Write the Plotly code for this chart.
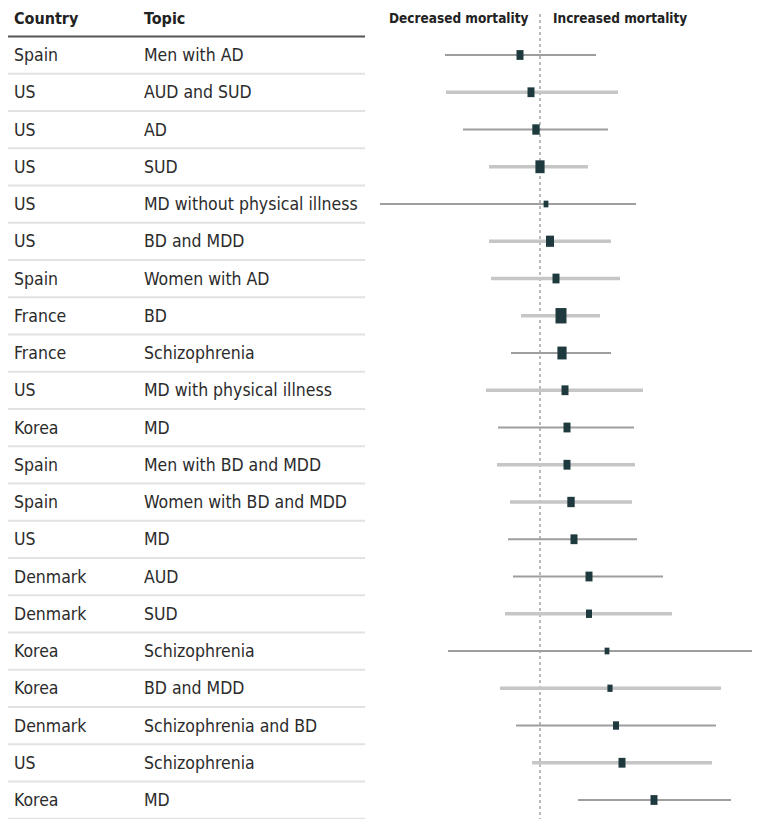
import plotly.graph_objects as go

# ---------------- data ----------------
countries = ["Spain", "US", "US", "US", "US", "US", "Spain", "France", "France", "US",
             "Korea", "Spain", "Spain", "US", "Denmark", "Denmark", "Korea", "Korea",
             "Denmark", "US", "Korea"]
topics = ["Men with AD", "AUD and SUD", "AD", "SUD", "MD without physical illness",
          "BD and MDD", "Women with AD", "BD", "Schizophrenia", "MD with physical illness",
          "MD", "Men with BD and MDD", "Women with BD and MDD", "MD", "AUD", "SUD",
          "Schizophrenia", "BD and MDD", "Schizophrenia and BD", "Schizophrenia", "MD"]
estimate = [-0.20, -0.09, -0.04, 0.00, 0.06, 0.10, 0.16, 0.21, 0.22, 0.25,
            0.27, 0.27, 0.31, 0.34, 0.49, 0.49, 0.67, 0.70, 0.76, 0.82, 1.14]
ci_low = [-0.95, -0.94, -0.77, -0.51, -1.60, -0.51, -0.49, -0.19, -0.29, -0.54,
          -0.42, -0.43, -0.30, -0.32, -0.27, -0.35, -0.92, -0.40, -0.24, -0.08, 0.38]
ci_high = [0.56, 0.78, 0.68, 0.48, 0.96, 0.71, 0.80, 0.60, 0.71, 1.03,
           0.94, 0.95, 0.92, 0.97, 1.23, 1.32, 2.25, 1.81, 1.76, 1.72, 1.91]
weight = [3.5, 3.5, 3.7, 4.6, 2.4, 4.0, 3.5, 5.5, 4.6, 3.5,
          3.5, 3.5, 3.7, 3.5, 3.5, 3.0, 2.4, 2.6, 3.0, 3.5, 3.5]
ci_type = ["a", "b", "a", "b", "a", "b", "b", "b", "a", "b",
           "a", "b", "b", "a", "a", "b", "a", "b", "a", "b", "a"]
header_country = "Country"
header_topic = "Topic"
header_left = "Decreased mortality"
header_right = "Increased mortality"

# ---------------- styling ----------------
FONT = "DejaVu Sans Condensed, Liberation Sans Narrow, Roboto, sans-serif"
TXT = "#2b2b2b"
MARK = "#1f3a3e"
W, H = 760, 819
OFF = 8            # page body margin offset
ROW_PX = 37.25
ROW0_PX = 55 - OFF
n = len(countries)
rows = list(range(n))
y_top = -ROW0_PX / ROW_PX
y_bot = (H - ROW0_PX) / ROW_PX
PX_PER_UNIT = 100.0
NULL_PX = 540 - OFF
x_min = -NULL_PX / PX_PER_UNIT
x_max = (W - NULL_PX) / PX_PER_UNIT

def px(v):
    return (v - OFF) / W

fig = go.Figure()

# CI lines, grouped by style
styles = {"a": dict(width=2, color="#9e9e9e"), "b": dict(width=3.5, color="#c6c6c6")}
for key, st in styles.items():
    xs, ys = [], []
    for i in rows:
        if ci_type[i] == key:
            xs += [ci_low[i], ci_high[i], None]
            ys += [i, i, None]
    fig.add_trace(go.Scatter(x=xs, y=ys, mode="lines", line=st,
                             hoverinfo="skip", showlegend=False))

# point estimates as small rectangles (vertical thick segments)
for i in rows:
    wpx = weight[i] * 2.0
    hpx = wpx * 1.4
    dh = hpx / 2 / ROW_PX
    fig.add_trace(go.Scatter(x=[estimate[i], estimate[i]], y=[i - dh, i + dh],
                             mode="lines", line=dict(width=wpx, color=MARK),
                             hovertext=f"{countries[i]} – {topics[i]}: {estimate[i]}",
                             showlegend=False))

# null reference line
fig.add_shape(type="line", xref="x", yref="paper", x0=0, x1=0, y0=0,
              y1=1 - (10 - OFF + 1) / H,
              line=dict(color="#777777", width=1, dash="dot"), layer="below")

# table separators
TABLE_R = px(365)
for i in rows:
    fig.add_shape(type="line", xref="paper", yref="y", x0=0, x1=TABLE_R,
                  y0=i + 0.5, y1=i + 0.5, line=dict(color="#e2e2e2", width=2))
fig.add_shape(type="line", xref="paper", yref="y", x0=0, x1=TABLE_R,
              y0=-0.5, y1=-0.5, line=dict(color="#555555", width=2))

# table text
for i in rows:
    fig.add_annotation(x=px(12), y=i, xref="paper", yref="y", text=countries[i],
                       xanchor="left", yanchor="middle", showarrow=False,
                       font=dict(family=FONT, size=17.5, color=TXT))
    fig.add_annotation(x=px(142), y=i, xref="paper", yref="y", text=topics[i],
                       xanchor="left", yanchor="middle", showarrow=False,
                       font=dict(family=FONT, size=17.5, color=TXT))

hy = (18 - OFF - ROW0_PX) / ROW_PX
for txt, xp in [(header_country, 12), (header_topic, 142)]:
    fig.add_annotation(x=px(xp), y=hy, xref="paper", yref="y", text=f"<b>{txt}</b>",
                       xanchor="left", yanchor="middle", showarrow=False,
                       font=dict(family=FONT, size=16, color="#222222"))
fig.add_annotation(x=-0.10, y=hy, xref="x", yref="y", text=f"<b>{header_left}</b>",
                   xanchor="right", yanchor="middle", showarrow=False,
                   font=dict(family=FONT, size=13.5, color="#222222"))
fig.add_annotation(x=0.11, y=hy, xref="x", yref="y", text=f"<b>{header_right}</b>",
                   xanchor="left", yanchor="middle", showarrow=False,
                   font=dict(family=FONT, size=13.5, color="#222222"))

fig.update_layout(
    width=W, height=H, margin=dict(l=0, r=0, t=0, b=0),
    paper_bgcolor="white", plot_bgcolor="white",
    xaxis=dict(range=[x_min, x_max], visible=False, fixedrange=True),
    yaxis=dict(range=[y_bot, y_top], visible=False, fixedrange=True),
    font=dict(family=FONT),
)

fig.write_html("out.html")
